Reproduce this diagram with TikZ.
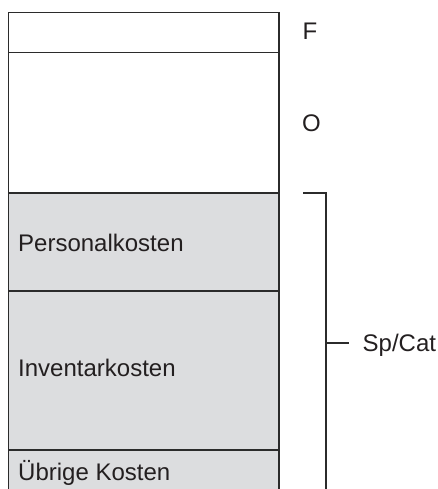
\documentclass[tikz,border=0pt]{standalone}
\usepackage{fontspec}
\setmainfont{Liberation Sans}
\definecolor{ln}{HTML}{2B2B2B}
\definecolor{txt}{HTML}{231F20}
\definecolor{cellgray}{HTML}{DCDDDF}
\begin{document}
\begin{tikzpicture}[x=1pt,y=-1pt,
  rule/.style={draw=ln, line width=1.4pt},
  lbl/.style={anchor=base west, inner sep=0pt, font=\fontsize{24}{28}\selectfont, text=txt}]
\useasboundingbox (0,0) rectangle (437,489);
% corners of the column
\coordinate (tl) at (8.5,12.3);
\coordinate (tr) at (278.8,12.3);
\coordinate (bl) at (8.5,489);
\coordinate (br) at (278.8,489);
\coordinate (fl) at (8.5,52.3);   \coordinate (fr) at (278.8,52.3);
\coordinate (ol) at (8.5,193);    \coordinate (or) at (278.8,193);
\coordinate (pl) at (8.5,290.8);  \coordinate (pr) at (278.8,290.8);
\coordinate (il) at (8.5,450);    \coordinate (ir) at (278.8,450);
% grey part
\fill[cellgray] (ol) rectangle (br);
% outline and separators
\draw[rule] (bl) -- (tl) -- (tr) -- (br);
\draw[rule] (fl) -- (fr);
\draw[rule] (ol) -- (or);
\draw[rule] (pl) -- (pr);
\draw[rule] (il) -- (ir);
% labels in cells
\node[lbl] (pers) at (18,251.7) {Personalkosten};
\node[lbl] (inv) at (18,376.5) {Inventarkosten};
\node[lbl] (ueb) at (18,480) {Übrige Kosten};
% side labels
\node[lbl] (F) at (302.5,40) {F};
\node[lbl] (O) at (302,131.5) {O};
\node[lbl] (sp) at (362.5,351.5) {Sp/Cat};
% bracket
\coordinate (b1) at (303.3,193);
\coordinate (b2) at (326,193);
\coordinate (b3) at (326,489);
\coordinate (t1) at (326,343);
\coordinate (t2) at (349,343);
\draw[rule] (b1) -- (b2) -- (b3);
\draw[rule] (t1) -- (t2);
\end{tikzpicture}
\end{document}
